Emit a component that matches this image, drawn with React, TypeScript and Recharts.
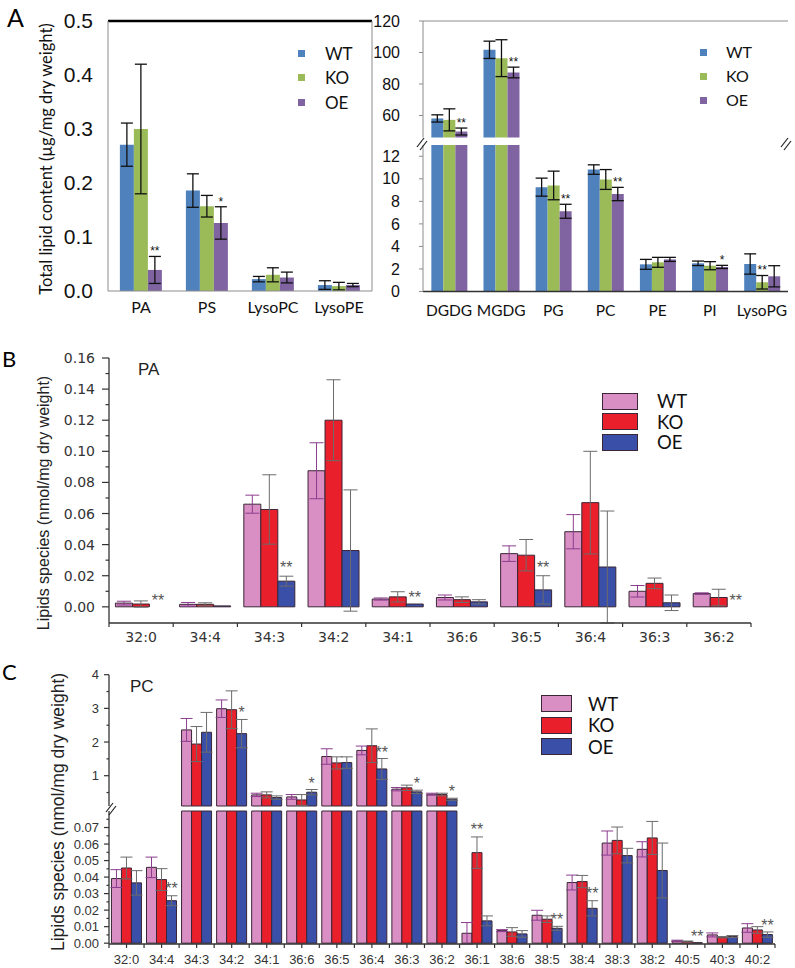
import React from "react";
import {
  Bar,
  BarChart,
  ErrorBar,
  LabelList,
  Legend,
  ReferenceLine,
  XAxis,
  YAxis,
} from "recharts";

const ARIAL = "'Liberation Sans', Arial, sans-serif";
const DEJAVU = "'DejaVu Sans', sans-serif";
const CALIBRI = "Lato, 'Open Sans', sans-serif";

const SERIES = ["WT", "KO", "OE"];
const KEYS = ["wt", "ko", "oe"] as const;

// ---- A, left: total lipid content (µg/mg dry weight)
const aLeftLipids = ["PA", "PS", "LysoPC", "LysoPE"];
const aLeftWT = [0.271, 0.186, 0.022, 0.011];
const aLeftWTErr = [0.04, 0.031, 0.005, 0.008];
const aLeftKO = [0.3, 0.157, 0.03, 0.009];
const aLeftKOErr = [0.12, 0.02, 0.013, 0.007];
const aLeftOE = [0.039, 0.126, 0.025, 0.011];
const aLeftOEErr = [0.025, 0.03, 0.01, 0.003];
const aLeftKOStars = ["", "", "", ""];
const aLeftOEStars = ["**", "*", "", ""];
const aLeftTicks = [0, 0.1, 0.2, 0.3, 0.4, 0.5];

// ---- A, right (broken axis)
const aRightLipids = ["DGDG", "MGDG", "PG", "PC", "PE", "PI", "LysoPG"];
const aRightWT = [58.1, 101.7, 9.26, 10.82, 2.41, 2.5, 2.44];
const aRightWTErr = [2.3, 5.5, 0.8, 0.42, 0.44, 0.2, 0.9];
const aRightKO = [57.2, 96.4, 9.41, 9.94, 2.59, 2.29, 0.82];
const aRightKOErr = [7, 11.7, 1.27, 0.88, 0.44, 0.36, 0.6];
const aRightOE = [49.8, 87.3, 7.12, 8.65, 2.85, 2.18, 1.35];
const aRightOEErr = [2.2, 3.4, 0.62, 0.59, 0.18, 0.14, 0.94];
const aRightKOStars = ["", "", "", "", "", "", "**"];
const aRightOEStars = ["**", "**", "**", "**", "", "*", ""];
const aRightUpperTicks = [60, 80, 100, 120];
const aRightLowerTicks = [0, 2, 4, 6, 8, 10, 12];

// ---- B: PA species (nmol/mg dry weight)
const bSpecies = ["32:0", "34:4", "34:3", "34:2", "34:1", "36:6", "36:5", "36:4", "36:3", "36:2"];
const bWT = [0.0024, 0.0016, 0.066, 0.0875, 0.005, 0.006, 0.0342, 0.0483, 0.01, 0.0085];
const bWTErr = [0.0012, 0.0012, 0.0058, 0.018, 0.0007, 0.0016, 0.005, 0.011, 0.0037, 0.0005];
const bKO = [0.0018, 0.0016, 0.0626, 0.12, 0.0064, 0.0046, 0.0332, 0.067, 0.0151, 0.006];
const bKOErr = [0.002, 0.001, 0.0223, 0.026, 0.0033, 0.0018, 0.0101, 0.033, 0.0034, 0.0053];
const bOE = [0, 0.0006, 0.0165, 0.0362, 0.0018, 0.0032, 0.0109, 0.0256, 0.0026, 0];
const bOEErr = [0, 0, 0.0032, 0.039, 0, 0.0014, 0.0091, 0.036, 0.005, 0];
const bKOStars = ["", "", "", "", "", "", "", "", "", ""];
const bOEStars = ["**", "", "**", "", "**", "", "**", "", "", "**"];
const bMajorTicks = [0, 0.02, 0.04, 0.06, 0.08, 0.1, 0.12, 0.14, 0.16];
const bMinorTicks = [0.01, 0.03, 0.05, 0.07, 0.09, 0.11, 0.13, 0.15];

// ---- C: PC species (broken axis)
const cSpecies = [
  "32:0", "34:4", "34:3", "34:2", "34:1", "36:6", "36:5", "36:4", "36:3", "36:2",
  "36:1", "38:6", "38:5", "38:4", "38:3", "38:2", "40:5", "40:3", "40:2",
];
const cWT = [0.0391, 0.0459, 2.36, 2.99, 0.43, 0.37, 1.57, 1.75, 0.6, 0.45, 0.006, 0.0076, 0.0169, 0.0367, 0.0606, 0.0568, 0.0014, 0.005, 0.0092];
const cWTErr = [0.0054, 0.0062, 0.34, 0.26, 0.05, 0.07, 0.23, 0.13, 0.05, 0.03, 0.0065, 0.0006, 0.003, 0.0045, 0.0073, 0.0046, 0.0004, 0.0012, 0.0026];
const cKO = [0.0455, 0.0385, 1.94, 2.96, 0.43, 0.28, 1.38, 1.89, 0.64, 0.44, 0.0548, 0.0068, 0.0145, 0.0373, 0.0622, 0.0637, 0.001, 0.0036, 0.008];
const cKOErr = [0.0066, 0.0066, 0.52, 0.56, 0.09, 0.16, 0.18, 0.5, 0.08, 0.04, 0.0095, 0.0026, 0.002, 0.0037, 0.0081, 0.01, 0.0003, 0.0004, 0.002];
const cOE = [0.0365, 0.0257, 2.29, 2.25, 0.35, 0.51, 1.39, 1.2, 0.52, 0.3, 0.0135, 0.0056, 0.009, 0.0211, 0.053, 0.044, 0.0003, 0.004, 0.0052];
const cOEErr = [0.0074, 0.003, 0.59, 0.42, 0.05, 0.08, 0.17, 0.31, 0.05, 0.03, 0.003, 0.002, 0.0012, 0.0046, 0.0044, 0.0166, 0, 0.0006, 0.0016];
const cKOStars = ["", "", "", "", "", "", "", "", "", "", "**", "", "", "", "", "", "", "", ""];
const cOEStars = ["", "**", "", "*", "", "*", "", "**", "*", "*", "", "", "**", "**", "", "", "**", "", "**"];
const cUpperMajor = [1, 2, 3, 4];
const cUpperMinor = [0.5, 1.5, 2.5, 3.5];
const cLowerMajor = [0, 0.01, 0.02, 0.03, 0.04, 0.05, 0.06, 0.07];
const cLowerMinor = [0.005, 0.015, 0.025, 0.035, 0.045, 0.055, 0.065, 0.075];

function makeRows(names, wt, wtErr, ko, koErr, oe, oeErr, koStars, oeStars) {
  return names.map((name, i) => ({
    name,
    wt: wt[i],
    wtErr: wtErr[i],
    wtStar: "",
    ko: ko[i],
    koErr: koErr[i],
    koStar: koStars[i],
    oe: oe[i],
    oeErr: oeErr[i],
    oeStar: oeStars[i],
  }));
}

// keep the part of each bar that sits inside one segment of a broken axis
function segment(rows, lo: number, hi: number) {
  return rows.map((r) => {
    const out = { ...r };
    KEYS.forEach((k) => {
      const v = r[k];
      if (v >= lo && v <= hi) return;
      out[k] = Math.min(Math.max(v, lo), hi);
      out[`${k}Err`] = 0;
      out[`${k}Star`] = "";
    });
    return out;
  });
}

const aLeftRows = makeRows(aLeftLipids, aLeftWT, aLeftWTErr, aLeftKO, aLeftKOErr, aLeftOE, aLeftOEErr, aLeftKOStars, aLeftOEStars);
const aRightRows = makeRows(aRightLipids, aRightWT, aRightWTErr, aRightKO, aRightKOErr, aRightOE, aRightOEErr, aRightKOStars, aRightOEStars);
const bRows = makeRows(bSpecies, bWT, bWTErr, bKO, bKOErr, bOE, bOEErr, bKOStars, bOEStars);
const cRows = makeRows(cSpecies, cWT, cWTErr, cKO, cKOErr, cOE, cOEErr, cKOStars, cOEStars);

const aRightUpper = segment(aRightRows, 46, Infinity);
const aRightLower = segment(aRightRows, 0, 13);
const cUpper = segment(cRows, 0.1, Infinity);
const cLower = segment(cRows, 0, 0.08);

type Look = {
  fills: string[];
  stroke?: string;
  errColors: string[];
  errWidth: number;
  cap: number;
  starSize: number;
  starColor: string;
  ppu: number; // pixels per data unit
  base: number; // value at the bottom of the segment
};

const lookA = (ppu: number, base: number): Look => ({
  fills: ["#4F81BD", "#9BBB59", "#8064A2"],
  errColors: ["#111", "#111", "#111"],
  errWidth: 1.3,
  cap: 6,
  starSize: 12,
  starColor: "#111",
  ppu,
  base,
});

const lookBC = (ppu: number, base: number, cap: number): Look => ({
  fills: ["#D98EC4", "#E9202B", "#3A4FA7"],
  stroke: "#3a2636",
  errColors: ["#8c3d8e", "#6b6b6b", "#6b6b6b"],
  errWidth: 1,
  cap,
  starSize: 16,
  starColor: "#555",
  ppu,
  base,
});

// significance marks of KO / OE, carried on the WT bar of each group
// (zero-height bars get no label, so the WT bar is the anchor)
const starKey = (r) =>
  ["ko", "oe"]
    .map((k, i) => (r[`${k}Star`] ? `${r[`${k}Star`]}|${i + 1}|${r[k]}|${r[`${k}Err`]}` : ""))
    .filter(Boolean)
    .join(";");

function starLabel(look: Look) {
  return (p: any) => {
    const raw = typeof p.value === "string" ? p.value : "";
    if (!raw) return null;
    const x = Number(p.x);
    const w = Number(p.width);
    const baseline = Number(p.y) + Number(p.height);
    return (
      <g>
        {raw.split(";").map((part) => {
          const [star, pos, v, err] = part.split("|");
          const top = baseline - (Number(v) - look.base + Number(err)) * look.ppu;
          return (
            <text key={pos} x={x + w * (Number(pos) + 0.5)} y={top - 1} textAnchor="middle" fontSize={look.starSize} fontFamily={ARIAL} fill={look.starColor}>
              {star}
            </text>
          );
        })}
      </g>
    );
  };
}

function seriesBars(look: Look) {
  return KEYS.map((k, i) => (
    <Bar
      key={k}
      dataKey={k}
      name={SERIES[i]}
      fill={look.fills[i]}
      stroke={look.stroke}
      strokeWidth={look.stroke ? 1 : 0}
      isAnimationActive={false}
    >
      <ErrorBar dataKey={`${k}Err`} width={look.cap} stroke={look.errColors[i]} strokeWidth={look.errWidth} />
      {k === "wt" ? <LabelList dataKey={starKey} content={starLabel(look)} /> : null}
    </Bar>
  ));
}

function LegendBox({ payload, sw, sh, pitch, gap, fontSize, border }: any) {
  const items = SERIES.map((name) => (payload || []).find((it) => it.value === name)).filter(Boolean);
  return (
    <div style={{ fontFamily: CALIBRI, fontSize, color: "#111" }}>
      {items.map((item) => (
        <div key={item.value} style={{ display: "flex", alignItems: "center", height: pitch }}>
          <span
            style={{
              display: "inline-block",
              width: sw,
              height: sh,
              background: item.color,
              border: border ? "1.5px solid #3a2636" : "none",
              boxSizing: "border-box",
            }}
          />
          <span style={{ marginLeft: gap, lineHeight: 1 }}>{item.value}</span>
        </div>
      ))}
    </div>
  );
}

function NumTick({ x, y, payload, major, digits, fontSize, font, len, gap }: any) {
  const v = payload.value;
  const isMajor = major.includes(v);
  return (
    <g>
      <line x1={x - (isMajor ? len : len / 2)} x2={x} y1={y} y2={y} stroke="#333" strokeWidth={1.2} />
      {isMajor ? (
        <text x={x - len - gap} y={y} dy="0.36em" textAnchor="end" fontSize={fontSize} fontFamily={font} fill="#333">
          {v.toFixed(digits)}
        </text>
      ) : null}
    </g>
  );
}

function CatTick({ x, y, payload, half, lastName, fontSize, font, gap, centerTick }: any) {
  const off = typeof payload?.offset === "number" && payload.offset > 0 ? payload.offset : half;
  const isLast = payload.value === lastName;
  return (
    <g stroke="#333" strokeWidth={1.2}>
      <line x1={x - off} x2={x - off} y1={y} y2={y + 4} />
      {isLast ? <line x1={x + off} x2={x + off} y1={y} y2={y + 4} /> : null}
      {centerTick ? <line x1={x} x2={x} y1={y} y2={y + 4} /> : null}
      <text x={x} y={y + gap} dy="0.71em" textAnchor="middle" fontSize={fontSize} fontFamily={font} fill="#333" stroke="none">
        {payload.value}
      </text>
    </g>
  );
}

function Panel({ left, top, children }: any) {
  return <div style={{ position: "absolute", left, top }}>{children}</div>;
}

// plot geometry, chart-relative
const A_H = 325;
const AL = { top: 21, bottom: 291 };
const AR_UP = { top: 21, bottom: 137.5 };
const AR_LO = { top: 145, bottom: 291.5 };
const B_H = 320;
const BP = { top: 28, bottom: 293 };
const C_H = 313;
const C_UP = { top: 19.7, bottom: 151 };
const C_LO = { top: 156, bottom: 289 };

const ppu = (g, lo: number, hi: number) => (g.bottom - g.top) / (hi - lo);

function Overlay() {
  const brk = (x: number, y: number) => (
    <g stroke="#222" strokeWidth={1.2}>
      <line x1={x - 4} y1={y + 3} x2={x + 3} y2={y - 6} />
      <line x1={x - 1} y1={y + 6} x2={x + 6} y2={y - 3} />
    </g>
  );
  return (
    <svg width={795} height={968} style={{ position: "absolute", left: 0, top: 0, pointerEvents: "none" }}>
      <text x={7} y={27} fontFamily={CALIBRI} fontSize={25} fill="#000">A</text>
      <text x={2} y={367} fontFamily={CALIBRI} fontSize={22} fill="#000">B</text>
      <text x={2} y={680} fontFamily={CALIBRI} fontSize={22} fill="#000">C</text>
      <text transform="translate(46,159) rotate(-90)" textAnchor="middle" dominantBaseline="central" fontFamily={CALIBRI} fontSize={16.5} fill="#111">
        Total lipid content (µg/mg dry weight)
      </text>
      <text transform="translate(43,503) rotate(-90)" textAnchor="middle" dominantBaseline="central" fontFamily={ARIAL} fontSize={16} fill="#222">
        Lipids species (nmol/mg dry weight)
      </text>
      <text transform="translate(58,812) rotate(-90)" textAnchor="middle" dominantBaseline="central" fontFamily={ARIAL} fontSize={17.5} fill="#222">
        Lipids species (nmol/mg dry weight)
      </text>
      <text x={138} y={375} fontFamily={ARIAL} fontSize={17} fill="#222">PA</text>
      <text x={130} y={692} fontFamily={ARIAL} fontSize={17} fill="#222">PC</text>
      {brk(421, 144)}
      {brk(785, 144)}
      {brk(110, 809)}
    </svg>
  );
}

export default function App() {
  const grayAxis = { stroke: "#8c8c8c" };
  const darkAxis = { stroke: "#333", strokeWidth: 1.3 };
  const bHalf = (751 - 109) / bSpecies.length / 2;
  const cHalf = (775 - 109) / cSpecies.length / 2;

  return (
    <div style={{ position: "absolute", left: 0, top: 0, width: 795, height: 968, background: "#fff", overflow: "hidden" }}>
      {/* A, left */}
      <Panel left={0} top={0}>
        <BarChart width={380} height={A_H} data={aLeftRows} margin={{ top: AL.top, right: 8, bottom: A_H - AL.bottom - 30, left: 0 }} barCategoryGap="18%" barGap={0}>
          <XAxis dataKey="name" height={30} interval={0} axisLine={grayAxis} tickLine={false} tickSize={0} tickMargin={11} tick={{ fontSize: 16, fontFamily: CALIBRI, fill: "#111" }} />
          <YAxis width={108} domain={[0, 0.5]} ticks={aLeftTicks} interval={0} tickFormatter={(v) => Number(v).toFixed(1)} axisLine={grayAxis} tickLine={false} tickSize={0} tickMargin={15} tick={{ fontSize: 21, fontFamily: ARIAL, fill: "#111" }} />
          <ReferenceLine y={0.5} stroke="#000" strokeWidth={2.5} />
          <ReferenceLine x="LysoPE" position="end" stroke="#8c8c8c" />
          {seriesBars(lookA(ppu(AL, 0, 0.5), 0))}
          <Legend layout="vertical" align="center" verticalAlign="middle" wrapperStyle={{ left: 298, top: 41, width: "auto" }} content={(p) => <LegendBox {...p} sw={7} sh={7} pitch={24.5} gap={20} fontSize={17} />} />
        </BarChart>
      </Panel>

      {/* A, right: lower segment */}
      <Panel left={370} top={0}>
        <BarChart width={425} height={A_H} data={aRightLower} margin={{ top: AR_LO.top, right: 7, bottom: A_H - AR_LO.bottom - 30, left: 0 }} barCategoryGap="16%" barGap={0}>
          <XAxis dataKey="name" height={30} interval={0} axisLine={darkAxis} tickLine={false} tickSize={0} tickMargin={13} tick={{ fontSize: 15.5, fontFamily: CALIBRI, fill: "#111" }} />
          <YAxis width={53} domain={[0, 13]} ticks={aRightLowerTicks} interval={0} axisLine={grayAxis} tickLine={grayAxis} tickSize={4} tickMargin={19} tick={{ fontSize: 16, fontFamily: ARIAL, fill: "#111" }} />
          <ReferenceLine x="LysoPG" position="end" stroke="#8c8c8c" />
          {seriesBars(lookA(ppu(AR_LO, 0, 13), 0))}
        </BarChart>
      </Panel>
      {/* A, right: upper segment */}
      <Panel left={370} top={0}>
        <BarChart width={425} height={A_H} data={aRightUpper} margin={{ top: AR_UP.top, right: 7, bottom: A_H - AR_UP.bottom, left: 0 }} barCategoryGap="16%" barGap={0}>
          <XAxis dataKey="name" hide />
          <YAxis width={53} domain={[46, 120]} ticks={aRightUpperTicks} interval={0} axisLine={grayAxis} tickLine={grayAxis} tickSize={4} tickMargin={19} tick={{ fontSize: 16, fontFamily: ARIAL, fill: "#111" }} />
          <ReferenceLine y={120} stroke="#8c8c8c" />
          <ReferenceLine x="LysoPG" position="end" stroke="#8c8c8c" />
          {seriesBars(lookA(ppu(AR_UP, 46, 120), 46))}
          <Legend layout="vertical" align="center" verticalAlign="middle" wrapperStyle={{ left: 330, top: 40, width: "auto" }} content={(p) => <LegendBox {...p} sw={7} sh={7} pitch={24} gap={19} fontSize={16} />} />
        </BarChart>
      </Panel>

      {/* B */}
      <Panel left={0} top={330}>
        <BarChart width={795} height={B_H} data={bRows} margin={{ top: BP.top, right: 44, bottom: B_H - BP.bottom - 25, left: 0 }} barCategoryGap="10%" barGap={0}>
          <XAxis dataKey="name" height={25} interval={0} axisLine={darkAxis} tickLine={false} tickSize={0} tickMargin={0} tick={(p) => <CatTick {...p} half={bHalf} lastName="36:2" fontSize={14} font={DEJAVU} gap={9} />} />
          <YAxis width={109} domain={[0, 0.16]} ticks={[...bMajorTicks, ...bMinorTicks]} interval={0} axisLine={darkAxis} tickLine={false} tickSize={0} tickMargin={0} tick={(p) => <NumTick {...p} major={bMajorTicks} digits={2} fontSize={14} font={DEJAVU} len={7} gap={7} />} />
          {seriesBars(lookBC(ppu(BP, 0, 0.16), 0, 7))}
          <Legend layout="vertical" align="center" verticalAlign="middle" wrapperStyle={{ left: 602, top: 61, width: "auto" }} content={(p) => <LegendBox {...p} sw={36} sh={17} pitch={20.5} gap={19} fontSize={18.5} border />} />
        </BarChart>
      </Panel>

      {/* C, lower segment */}
      <Panel left={0} top={655}>
        <BarChart width={795} height={C_H} data={cLower} margin={{ top: C_LO.top, right: 20, bottom: C_H - C_LO.bottom - 22, left: 0 }} barCategoryGap="7%" barGap={0}>
          <XAxis dataKey="name" height={22} interval={0} axisLine={darkAxis} tickLine={false} tickSize={0} tickMargin={0} tick={(p) => <CatTick {...p} half={cHalf} lastName="40:2" fontSize={13} font={ARIAL} gap={11} centerTick />} />
          <YAxis width={109} domain={[0, 0.08]} ticks={[...cLowerMajor, ...cLowerMinor]} interval={0} axisLine={darkAxis} tickLine={false} tickSize={0} tickMargin={0} tick={(p) => <NumTick {...p} major={cLowerMajor} digits={2} fontSize={13} font={ARIAL} len={5} gap={5} />} />
          {seriesBars(lookBC(ppu(C_LO, 0, 0.08), 0, 6))}
        </BarChart>
      </Panel>
      {/* C, upper segment */}
      <Panel left={0} top={655}>
        <BarChart width={795} height={C_H} data={cUpper} margin={{ top: C_UP.top, right: 20, bottom: C_H - C_UP.bottom, left: 0 }} barCategoryGap="7%" barGap={0}>
          <XAxis dataKey="name" hide />
          <YAxis width={109} domain={[0.1, 4]} ticks={[...cUpperMajor, ...cUpperMinor]} interval={0} axisLine={darkAxis} tickLine={false} tickSize={0} tickMargin={0} tick={(p) => <NumTick {...p} major={cUpperMajor} digits={0} fontSize={13} font={ARIAL} len={5} gap={5} />} />
          {seriesBars(lookBC(ppu(C_UP, 0.1, 4), 0.1, 6))}
          <Legend layout="vertical" align="center" verticalAlign="middle" wrapperStyle={{ left: 541, top: 38, width: "auto" }} content={(p) => <LegendBox {...p} sw={31} sh={17} pitch={21.5} gap={16} fontSize={18.5} border />} />
        </BarChart>
      </Panel>

      <Overlay />
    </div>
  );
}
